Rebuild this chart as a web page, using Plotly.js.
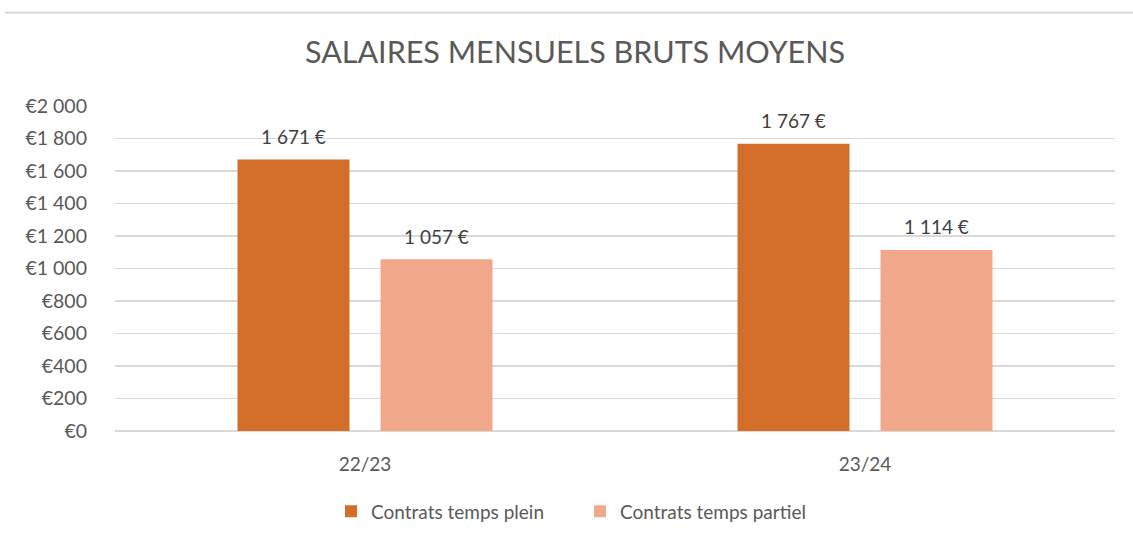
<!DOCTYPE html>
<html>
<head>
<meta charset="utf-8">
<script src="https://cdn.plot.ly/plotly-3.0.1.min.js"></script>
<style>html,body{margin:0;padding:0;background:#fff;}#chart{width:1133px;height:542px;}</style>
</head>
<body>
<div id="chart"></div>
<script>
const categories = ["22/23", "23/24"];
const seriesNames = ["Contrats temps plein", "Contrats temps partiel"];
const pleinValues = [1671, 1767];
const partielValues = [1057, 1114];
const yTickVals = [0, 200, 400, 600, 800, 1000, 1200, 1400, 1600, 1800, 2000];
const yTickText = ["€0", "€200", "€400", "€600", "€800", "€1 000", "€1 200", "€1 400", "€1 600", "€1 800", "€2 000"];

const baseFont = "Lato, 'Open Sans', sans-serif";

function fmt(v) {
  return String(v).replace(/\B(?=(\d{3})+(?!\d))/g, " ") + " €";
}

const traces = [
  {
    type: "bar", name: seriesNames[0], x: categories, y: pleinValues,
    marker: {color: "#D26D2A"}, hoverinfo: "none"
  },
  {
    type: "bar", name: seriesNames[1], x: categories, y: partielValues,
    marker: {color: "#F1A88A"}, hoverinfo: "none"
  }
];

const annotations = [];
[pleinValues, partielValues].forEach(function (vals, si) {
  vals.forEach(function (v, ci) {
    annotations.push({
      x: categories[ci], y: v, xref: "x", yref: "y",
      text: fmt(v), showarrow: false,
      xanchor: "center", yanchor: "middle",
      xshift: si === 0 ? -71.5 : 71.5, yshift: 23,
      font: {family: baseFont, size: 19, color: "#404040"}
    });
  });
});

const layout = {
  width: 1133, height: 542,
  paper_bgcolor: "#ffffff", plot_bgcolor: "#ffffff",
  margin: {l: 115, r: 18, t: 106, b: 108},
  font: {family: baseFont, color: "#595959", size: 17},
  title: {
    text: "SALAIRES MENSUELS BRUTS MOYENS",
    font: {family: baseFont, size: 30.5, color: "#595959"},
    x: 575 / 1133, xanchor: "center", xref: "container",
    y: 1 - 52 / 542, yref: "container", yanchor: "middle"
  },
  barmode: "group",
  bargap: 0.428,
  bargroupgap: 0.217,
  showlegend: true,
  legend: {
    orientation: "h", x: 0.465, xanchor: "center", y: -0.247, yanchor: "middle",
    font: {family: baseFont, size: 19, color: "#595959"},
    traceorder: "normal", entrywidth: 204, entrywidthmode: "pixels"
  },
  xaxis: {
    type: "category", showgrid: false, zeroline: false,
    showline: false, ticks: "", ticklabelstandoff: 20,
    tickfont: {family: baseFont, size: 19, color: "#595959"}
  },
  yaxis: {
    range: [0, 2000], tickmode: "array", tickvals: yTickVals, ticktext: yTickText,
    showgrid: true, gridcolor: "#D9D9D9", gridwidth: 1.3,
    zeroline: true, zerolinecolor: "#D9D9D9", zerolinewidth: 1.3,
    showline: false, ticks: "", ticklabelstandoff: 27,
    tickfont: {family: baseFont, size: 19.5, color: "#595959"}
  },
  annotations: annotations,
  shapes: [
    {type: "line", xref: "paper", yref: "paper", x0: -0.11, x1: 1.02, y0: 1.2866, y1: 1.2866,
     line: {color: "#D9D9D9", width: 2}}
  ]
};

Plotly.newPlot("chart", traces, layout, {displayModeBar: false, staticPlot: true});
</script>
</body>
</html>
